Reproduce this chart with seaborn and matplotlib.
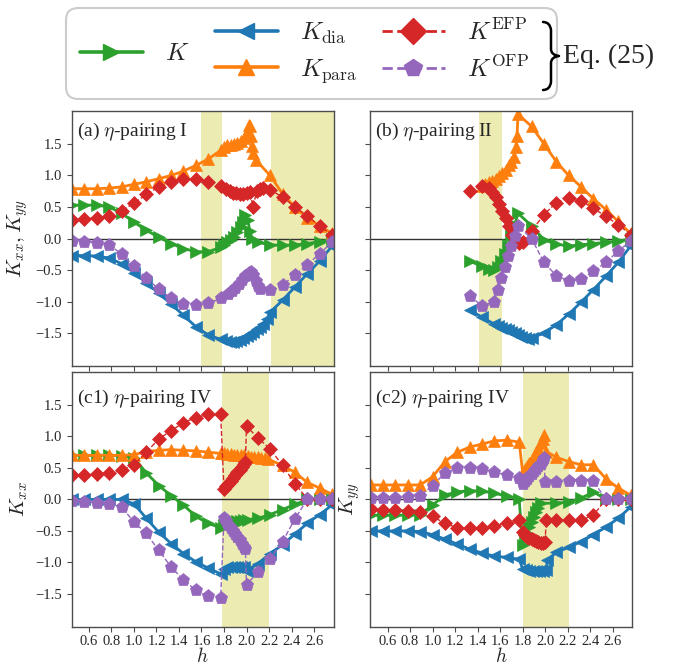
import numpy as np
import matplotlib
matplotlib.use('Agg')
import matplotlib.pyplot as plt
import seaborn as sns
from matplotlib.lines import Line2D
from matplotlib.patches import FancyBboxPatch, PathPatch
from matplotlib.path import Path

# coarse h grids shared by most curves
H_LO = [0.45, 0.56, 0.67, 0.78, 0.89, 1.00, 1.11, 1.22, 1.33, 1.44, 1.55, 1.66, 1.77]
H_HI = [2.10, 2.21, 2.32, 2.43, 2.54, 2.65, 2.76]
H_HI_B = [1.99, 2.10, 2.21, 2.32, 2.43, 2.54, 2.65, 2.76]

# ---- panel (a) eta-pairing I ----
a_K_h = H_LO + [1.80, 1.83, 1.86, 1.89, 1.92, 1.95, 1.97, 1.99, 2.01, 2.03, 2.05] + H_HI
a_K = [0.53, 0.53, 0.53, 0.50, 0.40, 0.26, 0.13, 0.02, -0.08, -0.16, -0.21, -0.21, -0.14,
       -0.10, -0.06, -0.02, 0.03, 0.10, 0.18, 0.26, 0.38, 0.30, 0.12, 0.00,
       -0.06, -0.10, -0.11, -0.10, -0.08, -0.05, -0.01]
a_dia_h = H_LO + [1.82, 1.85, 1.88, 1.91, 1.94, 1.97, 2.00, 2.03, 2.06, 2.09, 2.12, 2.15, 2.18] + H_HI[1:]
a_dia = [-0.27, -0.27, -0.28, -0.31, -0.40, -0.54, -0.70, -0.87, -1.04, -1.22, -1.40, -1.53, -1.60,
         -1.62, -1.64, -1.64, -1.63, -1.61, -1.58, -1.55, -1.52, -1.48, -1.44, -1.40, -1.35, -1.28,
         -1.17, -0.98, -0.77, -0.56, -0.36, -0.12]
a_para_h = H_LO + [1.80, 1.83, 1.86, 1.89, 1.92, 1.95, 1.98, 2.00, 2.02, 2.03, 2.04, 2.05, 2.06, 2.08] + H_HI[1:]
a_para = [0.79, 0.79, 0.79, 0.80, 0.82, 0.86, 0.90, 0.95, 1.00, 1.07, 1.16, 1.26, 1.40,
          1.46, 1.48, 1.49, 1.50, 1.52, 1.55, 1.60, 1.68, 1.80, 1.78, 1.62, 1.47, 1.36, 1.25,
          1.00, 0.71, 0.50, 0.33, 0.20, 0.08]
a_efp_h = H_LO + [1.82, 1.85, 1.88, 1.91, 1.94, 1.97, 2.00, 2.03, 2.06, 2.09, 2.12, 2.15] + H_HI[1:]
a_efp = [0.29, 0.31, 0.33, 0.36, 0.44, 0.56, 0.70, 0.82, 0.90, 0.94, 0.95, 0.90, 0.83,
         0.78, 0.75, 0.73, 0.72, 0.71, 0.71, 0.72, 0.74, 0.50, 0.76, 0.79, 0.80,
         0.77, 0.66, 0.50, 0.36, 0.20, 0.06]
a_ofp_h = H_LO + [1.84, 1.87, 1.90, 1.93, 1.96, 1.99, 2.02, 2.04, 2.06, 2.08, 2.10, 2.12] + H_HI[1:]
a_ofp = [-0.04, -0.05, -0.07, -0.10, -0.25, -0.44, -0.63, -0.80, -0.95, -1.04, -1.06, -1.03, -0.95,
         -0.88, -0.83, -0.78, -0.72, -0.66, -0.60, -0.55, -0.53, -0.58, -0.68, -0.76, -0.80,
         -0.82, -0.74, -0.58, -0.42, -0.24, -0.06]

# ---- panel (b) eta-pairing II ----
b_K_h = [1.33, 1.44, 1.50, 1.55, 1.58, 1.61, 1.64, 1.67, 1.70, 1.73, 1.76, 1.88] + H_HI_B
b_K = [-0.36, -0.44, -0.48, -0.50, -0.46, -0.36, -0.25, -0.10, 0.05, 0.22, 0.40, 0.20,
       -0.02, -0.09, -0.12, -0.10, -0.08, -0.06, -0.04, -0.01]
b_dia_h = [1.33, 1.44, 1.55, 1.58, 1.61, 1.64, 1.67, 1.70, 1.73, 1.76, 1.79, 1.82, 1.85, 1.88] + H_HI_B
b_dia = [-1.13, -1.25, -1.36, -1.39, -1.42, -1.44, -1.46, -1.48, -1.50, -1.53, -1.56, -1.58, -1.59, -1.58,
         -1.50, -1.37, -1.20, -1.01, -0.81, -0.60, -0.38, -0.12]
b_para_h = [1.44, 1.47, 1.50, 1.53, 1.56, 1.59, 1.62, 1.65, 1.68, 1.70, 1.72, 1.74, 1.75, 1.76, 1.88] + H_HI_B
b_para = [0.84, 0.86, 0.89, 0.92, 0.95, 0.99, 1.04, 1.09, 1.16, 1.22, 1.30, 1.45, 1.62, 1.97, 1.78,
          1.50, 1.22, 1.00, 0.82, 0.63, 0.46, 0.27, 0.08]
b_efp_h = [1.33, 1.44, 1.50, 1.53, 1.56, 1.59, 1.62, 1.65, 1.68, 1.71, 1.74, 1.77, 1.80, 1.88] + H_HI_B
b_efp = [0.75, 0.84, 0.80, 0.74, 0.66, 0.55, 0.44, 0.32, 0.20, 0.06, -0.03, -0.07, -0.05, 0.12,
         0.38, 0.57, 0.65, 0.60, 0.48, 0.35, 0.22, 0.06]
b_ofp_h = [1.33, 1.44, 1.55, 1.58, 1.61, 1.64, 1.67, 1.70, 1.73, 1.76, 1.88] + H_HI_B
b_ofp = [-0.91, -1.07, -1.00, -0.82, -0.62, -0.45, -0.28, -0.12, 0.04, 0.20, 0.00,
         -0.38, -0.59, -0.67, -0.65, -0.52, -0.38, -0.20, -0.04]

# ---- panel (c1) eta-pairing IV, K_xx ----
c1_K_h = H_LO + [1.80, 1.83, 1.86, 1.89, 1.92, 1.95, 1.98, 2.01] + H_HI
c1_K = [0.70, 0.70, 0.70, 0.70, 0.69, 0.66, 0.42, 0.22, 0.06, -0.09, -0.27, -0.38, -0.45,
        -0.40, -0.38, -0.37, -0.36, -0.35, -0.34, -0.33, -0.32,
        -0.30, -0.24, -0.16, -0.08, 0.00, 0.00, 0.00]
c1_dia_h = H_LO + [1.80, 1.83, 1.86, 1.89, 1.92, 1.95, 1.98, 2.00] + H_HI
c1_dia = [0.00, 0.00, 0.00, 0.00, 0.00, -0.07, -0.30, -0.52, -0.70, -0.86, -0.99, -1.09, -1.18,
          -1.10, -1.08, -1.07, -1.07, -1.07, -1.07, -1.08, -1.14,
          -1.02, -0.86, -0.72, -0.55, -0.38, -0.24, -0.09]
c1_para_h = H_LO + [1.80, 1.83, 1.86, 1.89, 1.92, 1.95, 1.98, 2.01, 2.04, 2.07, 2.10, 2.13, 2.16, 2.19] + H_HI[2:]
c1_para = [0.70, 0.70, 0.70, 0.70, 0.70, 0.71, 0.76, 0.78, 0.79, 0.78, 0.77, 0.75, 0.73,
           0.73, 0.72, 0.72, 0.71, 0.71, 0.70, 0.70, 0.69, 0.68, 0.68, 0.67, 0.66, 0.65, 0.64,
           0.54, 0.43, 0.27, 0.18, 0.08]
c1_efp_h = H_LO + [1.80, 1.82, 1.84, 1.86, 1.88, 1.90, 1.92, 1.94, 1.96, 1.98, 1.99, 2.00] + H_HI
c1_efp = [0.38, 0.39, 0.40, 0.42, 0.46, 0.55, 0.75, 0.96, 1.09, 1.22, 1.30, 1.35, 1.35,
          0.17, 0.21, 0.25, 0.30, 0.34, 0.38, 0.43, 0.47, 0.51, 0.56, 0.59, 1.16,
          0.98, 0.80, 0.54, 0.25, 0.01, 0.00, 0.00]
c1_ofp_h = H_LO + [1.80, 1.82, 1.84, 1.86, 1.88, 1.90, 1.92, 1.94, 1.96, 1.98, 1.99, 2.00] + H_HI
c1_ofp = [-0.03, -0.04, -0.05, -0.07, -0.12, -0.36, -0.54, -0.81, -1.07, -1.28, -1.44, -1.54, -1.56,
          -0.30, -0.35, -0.40, -0.45, -0.50, -0.55, -0.60, -0.65, -0.70, -0.75, -0.78, -1.36,
          -1.15, -0.94, -0.67, -0.31, 0.00, 0.00, 0.00]

# ---- panel (c2) eta-pairing IV, K_yy ----
c2_K_h = H_LO + [1.80, 1.82, 1.84, 1.86, 1.88, 1.90, 1.92, 1.94, 1.96] + H_HI
c2_K = [-0.25, -0.25, -0.25, -0.25, -0.24, -0.09, 0.07, 0.12, 0.14, 0.13, 0.10, 0.05, 0.00,
        -0.72, -0.62, -0.53, -0.44, -0.36, -0.28, -0.20, -0.13, -0.06,
        -0.06, -0.04, 0.02, 0.12, 0.00, 0.00, 0.00]
c2_dia_h = H_LO + [1.80, 1.83, 1.86, 1.89, 1.92, 1.95, 1.98, 2.01, 2.02] + H_HI
c2_dia = [-0.50, -0.50, -0.50, -0.50, -0.51, -0.56, -0.63, -0.71, -0.79, -0.85, -0.90, -0.92, -0.95,
          -1.10, -1.12, -1.13, -1.14, -1.14, -1.14, -1.13, -1.12, -0.96,
          -0.84, -0.76, -0.67, -0.56, -0.44, -0.30, -0.12]
c2_para_h = H_LO + [1.80, 1.82, 1.84, 1.86, 1.88, 1.90, 1.92, 1.94, 1.96, 1.98, 1.99, 2.01] + H_HI
c2_para = [0.23, 0.23, 0.23, 0.23, 0.23, 0.36, 0.60, 0.75, 0.83, 0.88, 0.93, 0.94, 0.91,
           0.44, 0.48, 0.53, 0.58, 0.63, 0.69, 0.75, 0.82, 0.89, 0.96, 1.02, 0.76,
           0.67, 0.60, 0.55, 0.55, 0.33, 0.18, 0.07]
c2_efp_h = H_LO + [1.80, 1.82, 1.84, 1.86, 1.88, 1.90, 1.92, 1.94, 1.96, 1.98, 2.00, 2.01] + H_HI
c2_efp = [-0.15, -0.16, -0.17, -0.18, -0.20, -0.27, -0.38, -0.45, -0.46, -0.45, -0.42, -0.37, -0.33,
          -0.52, -0.56, -0.59, -0.61, -0.63, -0.65, -0.66, -0.68, -0.69, -0.69, -0.68, -0.33,
          -0.33, -0.33, -0.33, -0.25, 0.00, 0.00, 0.00]
c2_ofp_h = H_LO + [1.80, 1.82, 1.84, 1.86, 1.88, 1.90, 1.92, 1.94, 1.96, 1.98, 1.99, 2.00] + H_HI
c2_ofp = [0.02, 0.02, 0.03, 0.04, 0.06, 0.22, 0.42, 0.50, 0.50, 0.48, 0.44, 0.38, 0.34,
          0.25, 0.29, 0.33, 0.37, 0.41, 0.45, 0.49, 0.53, 0.57, 0.62, 0.65, 0.28,
          0.28, 0.29, 0.29, 0.29, 0.00, 0.00, 0.00]

# shaded h ranges
a_spans = [(1.60, 1.78), (2.215, 2.78)]
b_spans = [(1.41, 1.62)]
c1_spans = [(1.785, 2.20)]
c2_spans = [(1.80, 2.21)]

titles = [r'(a) $\eta$-pairing I', r'(b) $\eta$-pairing II',
          r'(c1) $\eta$-pairing IV', r'(c2) $\eta$-pairing IV']

# style for each quantity: color, marker, size, linestyle, linewidth
styles = {
    'K':    ('#2ca02c', '>', 8.5, '-', 2.0),
    'dia':  ('#1f77b4', '<', 8.5, '-', 2.0),
    'para': ('#ff7f0e', '^', 8.5, '-', 2.0),
    'efp':  ('#d62728', 'D', 7.5, '--', 1.0),
    'ofp':  ('#9467bd', 'p', 9.5, '--', 1.0),
}

panels = [
    (a_spans, [('K', a_K_h, a_K), ('dia', a_dia_h, a_dia), ('para', a_para_h, a_para),
               ('efp', a_efp_h, a_efp), ('ofp', a_ofp_h, a_ofp)]),
    (b_spans, [('K', b_K_h, b_K), ('dia', b_dia_h, b_dia), ('para', b_para_h, b_para),
               ('efp', b_efp_h, b_efp), ('ofp', b_ofp_h, b_ofp)]),
    (c1_spans, [('K', c1_K_h, c1_K), ('dia', c1_dia_h, c1_dia), ('para', c1_para_h, c1_para),
                ('efp', c1_efp_h, c1_efp), ('ofp', c1_ofp_h, c1_ofp)]),
    (c2_spans, [('K', c2_K_h, c2_K), ('dia', c2_dia_h, c2_dia), ('para', c2_para_h, c2_para),
                ('efp', c2_efp_h, c2_efp), ('ofp', c2_ofp_h, c2_ofp)]),
]

sns.set_style('ticks')
plt.rcParams['font.family'] = ['Liberation Serif', 'DejaVu Serif']
plt.rcParams['mathtext.fontset'] = 'cm'

fig, axes = plt.subplots(2, 2, figsize=(6.88, 6.66), dpi=100, sharex=True, sharey=True)
fig.subplots_adjust(left=0.104, right=0.919, top=0.833, bottom=0.059, wspace=0.139, hspace=0.025)

for ax, (spans, series), title in zip(axes.flat, panels, titles):
    for lo, hi in spans:
        ax.axvspan(lo, hi, color='y', alpha=0.3, lw=0, zorder=0)
    ax.axhline(0, color='0.2', lw=1.0, zorder=1)
    for key, hs, vs in series:
        c, m, ms, ls, lw = styles[key]
        sns.lineplot(x=hs, y=vs, ax=ax, color=c, marker=m, markersize=ms,
                     linestyle=ls, linewidth=lw, markeredgecolor=c,
                     markeredgewidth=0.5, estimator=None, sort=False, zorder=2)
    ax.text(0.02, 0.92 if title.startswith(('(a', '(b')) else 0.897, title,
            transform=ax.transAxes, fontsize=14, va='center', ha='left')
    ax.set_xlim(0.445, 2.775)
    ax.set_ylim(-2.02, 2.02)
    ax.set_xticks(np.arange(0.6, 2.61, 0.2))
    ax.set_yticks(np.arange(-1.5, 1.51, 0.5))
    ax.tick_params(labelsize=10.5, length=3.5, width=0.8, color='0.3')
    ax.tick_params(axis='x', pad=2.5)
    for sp in ax.spines.values():
        sp.set_color('0.3')
        sp.set_linewidth(1.0)

axes[0, 0].set_ylabel(r'$K_{xx}, K_{yy}$', fontsize=15)
axes[1, 0].set_ylabel(r'$K_{xx}$', fontsize=15)
axes[1, 1].set_ylabel(r'$K_{yy}$', fontsize=15, labelpad=2)
axes[1, 1].yaxis.label.set_visible(True)
axes[1, 0].set_xlabel(r'$h$', fontsize=14, labelpad=-1)
axes[1, 1].set_xlabel(r'$h$', fontsize=14, labelpad=-1)

# legend frame and entries
W, H = 688.0, 666.0
frame = FancyBboxPatch((66 / W, 1 - 99 / H), 491 / W, 91 / H,
                       boxstyle='round,pad=0,rounding_size=0.018',
                       transform=fig.transFigure, fc='white', ec='#cccccc', lw=1.5, zorder=1)
fig.add_artist(frame)


def proxy(key, ms):
    c, m, _, ls, _ = styles[key]
    return Line2D([], [], color=c, marker=m, markersize=ms, linestyle=ls,
                  linewidth=2.6 if ls == '-' else 2.0, markeredgecolor=c)


fig.legend(handles=[proxy('K', 12)], labels=[r'$K$'], loc='center left',
           bbox_to_anchor=(80 / W, 1 - 54 / H), frameon=False, fontsize=18,
           handlelength=2.5, handletextpad=0.9, borderpad=0, borderaxespad=0)
fig.legend(handles=[proxy('dia', 12), proxy('para', 12), proxy('efp', 13), proxy('ofp', 13)],
           labels=[r'$K_{\rm dia}$', r'$K_{\rm para}$', r'$K^{\rm EFP}$', r'$K^{\rm OFP}$'],
           ncol=2, loc='center left', bbox_to_anchor=(215 / W, 1 - 52 / H), frameon=False,
           fontsize=18, handlelength=2.5, handletextpad=0.9, columnspacing=1.0,
           labelspacing=0.45, borderpad=0, borderaxespad=0)

# curly brace + equation reference
pts = [(543, 22), (550, 22), (551, 30), (551, 49), (551, 55), (559, 56),
       (551, 57), (551, 63), (551, 82), (550, 90), (543, 90)]
codes = [Path.MOVETO, Path.CURVE3, Path.CURVE3, Path.LINETO, Path.CURVE3, Path.CURVE3,
         Path.CURVE3, Path.CURVE3, Path.LINETO, Path.CURVE3, Path.CURVE3]
brace = PathPatch(Path([(x / W, 1 - y / H) for x, y in pts], codes), transform=fig.transFigure,
                  fc='none', ec='black', lw=1.8, capstyle='round', joinstyle='round')
fig.add_artist(brace)
fig.text(563 / W, 1 - 56 / H, 'Eq. (25)', fontsize=20, va='center', ha='left')

fig.savefig('out.png', dpi=100)
